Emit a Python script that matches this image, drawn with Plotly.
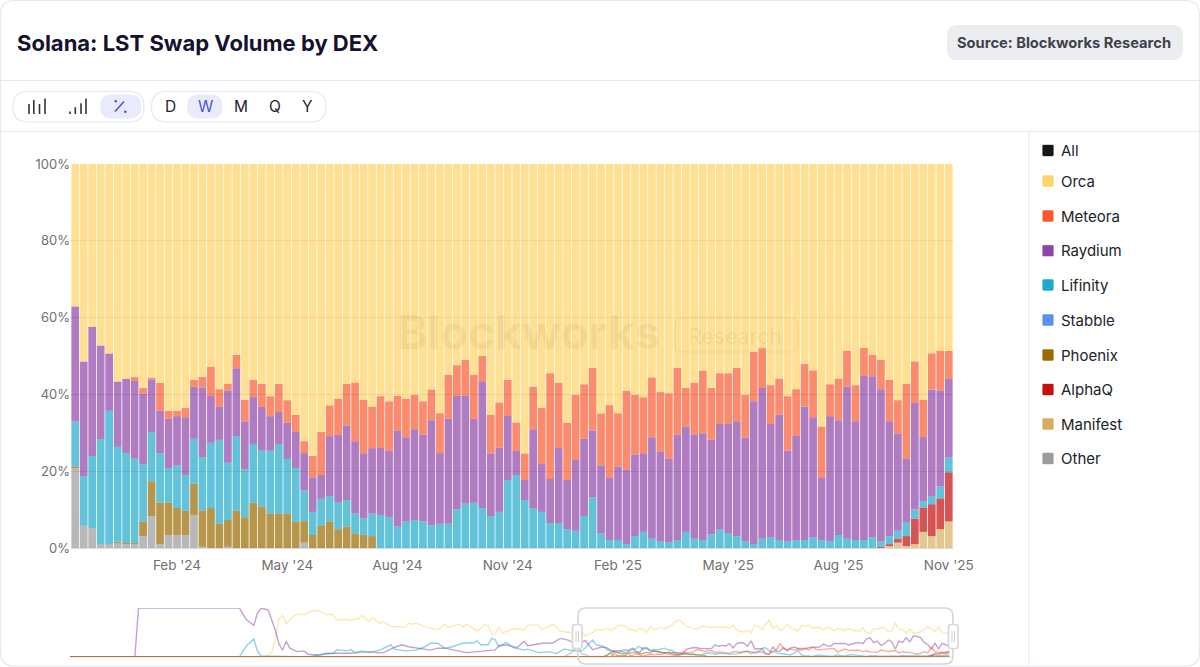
import pandas as pd
import plotly.graph_objects as go

W, H = 1200, 667

weeks = [d.strftime("%Y-%m-%d") for d in pd.date_range("2023-11-13", periods=104, freq="7D")]
tick_dates = ["2024-02-05", "2024-05-06", "2024-08-05", "2024-11-04", "2025-02-03", "2025-05-05", "2025-08-04", "2025-11-03"]
tick_labels = ["Feb '24", "May '24", "Aug '24", "Nov '24", "Feb '25", "May '25", "Aug '25", "Nov '25"]

other = [20.7,5.8,5.2,1.0,1.0,1.2,1.0,1.0,3.1,8.3,
         1.0,3.4,3.4,3.4,8.6,0.3,0,0,0.3,0,
         0,0,0,0,0,0,0,1.4] + [0]*76
phoenix = [0.5,0,0,0,0,0.4,0.3,0.3,3.8,9.0,
           10.8,8.4,7.0,6.3,8.1,9.5,10.4,6.3,7.0,9.7,
           8.0,11.8,10.8,9.0,9.0,9.0,6.9,5.6,3.4,5.9,
           6.9,4.9,5.6,3.8,3.4,3.1] + [0]*68
lifinity = [11.7,12.9,18.8,27.3,34.7,24.7,23.4,22.0,14.9,12.8,
            12.8,9.0,11.1,9.3,11.7,13.9,17.0,21.9,14.9,19.4,
            12.5,15.3,14.6,16.3,18.1,14.2,13.9,8.0,6.0,6.9,
            6.6,6.9,6.9,5.2,4.3,5.9,8.6,8.0,5.6,6.9,
            7.3,6.9,5.9,6.3,6.3,10.1,11.5,11.8,10.4,8.3,
            9.4,17.7,19.0,12.5,10.4,9.4,6.5,6.5,4.9,4.5,
            8.3,13.2,3.8,2.1,2.1,1.0,3.1,4.2,2.4,1.7,
            1.4,2.1,4.2,2.4,2.1,3.5,4.9,3.8,3.1,1.7,
            1.0,2.4,2.8,2.1,1.7,2.1,2.1,2.8,2.1,1.7,
            3.4,2.4,2.1,2.1,2.8,1.4,2.1,2.1,3.5,2.4,
            1.7,2.1,3.1,3.8]
raydium = [29.9,29.9,33.7,24.4,14.9,17.0,19.4,20.2,18.4,13.7,
           11.1,12.8,12.8,15.0,13.6,18.1,12.2,8.7,18.8,17.7,
           12.5,12.2,11.5,9.0,8.3,9.4,9.4,9.7,9.0,6.2,
           15.6,17.7,19.4,18.8,17.0,17.0,17.4,17.3,25.0,21.9,
           23.6,22.6,27.4,18.4,27.4,29.5,28.1,21.9,33.0,16.3,
           16.7,16.7,6.3,5.2,20.5,12.5,11.5,19.5,12.8,18.4,
           20.1,17.4,17.7,16.3,19.1,19.4,21.2,20.5,26.4,23.3,
           21.9,27.4,27.4,27.1,27.8,24.7,27.4,28.5,29.9,27.1,
           37.2,39.2,29.5,32.6,23.6,27.1,34.7,31.3,16.3,32.6,
           29.9,39.6,30.9,42.7,42.0,39.6,29.9,25.3,16.7,27.8,
           16.7,27.8,25.0,20.5]
meteora = [0,0,0,0,0,0,0,1.0,1.4,0.5,
           7.3,2.1,1.4,2.4,1.7,2.8,7.6,4.5,1.7,3.5,
           5.6,4.5,5.9,5.2,7.3,5.9,4.5,3.1,5.6,11.2,
           8.0,9.4,10.8,15.3,13.9,10.8,13.5,12.9,9.0,10.1,
           9.0,8.7,8.0,10.4,11.5,8.0,9.4,11.5,6.6,10.1,
           11.8,9.4,7.4,6.9,11.1,14.6,27.5,17.0,14.9,17.0,
           14.2,16.3,13.5,18.8,13.9,20.5,15.6,14.6,15.6,15.6,
           17.0,17.4,10.1,13.5,16.3,13.5,13.2,13.2,13.9,11.1,
           12.8,10.4,10.1,9.4,14.2,12.2,11.1,12.2,13.2,8.3,
           10.8,9.4,9.4,7.3,5.6,7.6,10.8,8.7,19.4,10.8,
           9.7,9.4,10.4,7.3]
orca = [37.1,51.4,42.4,47.2,49.3,56.6,55.9,55.5,58.3,55.5,
        56.9,64.2,64.2,63.5,56.2,55.5,52.8,58.7,57.3,49.7,
        61.5,56.2,57.3,60.4,57.3,61.5,65.3,72.2,76.0,69.8,
        62.8,61.1,57.3,56.9,61.5,63.2,60.4,61.8,60.4,61.1,
        60.1,61.8,58.7,64.9,54.9,52.4,51.0,54.9,50.0,65.3,
        62.1,56.2,67.4,75.3,58.0,63.5,54.5,56.9,67.4,60.1,
        57.3,53.1,64.9,62.8,64.9,59.0,60.1,60.8,55.5,59.4,
        59.7,53.1,58.3,56.9,53.8,58.3,54.5,54.5,53.1,60.1,
        48.9,47.9,57.6,55.9,60.4,58.7,52.1,53.8,68.4,57.3,
        55.9,48.6,57.6,47.9,49.7,51.0,56.2,61.5,57.3,51.4,
        61.5,49.3,48.6,48.6]
stabble = [0]*104
alphaq = [0]*95 + [0.3,0.5,1.0,2.6,6.6,6.3,8.3,8.0,12.8]
manifest = [0]*96 + [0.5,1.4,0.5,1.0,4.2,3.1,4.9,6.9]

# Navigator history before the selected window (week index, share %)
hist_raydium_w = [0,18,19,47,48,49,51,52,53,55,56,57,58,59,60,61,63,65,66,69,71,74,78,80,83,85,87,90,92,94,97,100,102,104,106,110,113,118,119,121,124,126,127,131,134,136,138,140]
hist_raydium_v = [0,0,100,100,87.5,76,64.6,89,100,96,75,54,26,14,32,18,11,12.5,5.5,3.5,7.6,7,7.6,9,11,9,9,19.4,25,21,17,14,18,18,15,9,11,14.6,23,25,19,32,23,28,28.5,38,35,29]
hist_orca_w = [0,54,56,57,58,59,60,62,63,65,67,69,71,73,74,76,78,80,81,83,84,86,87,89,93,94,95,96,99,102,104,105,108,109,110,111,113,115,116,117,118,119,120,123,126,127,130,131,134,136,138,140]
hist_orca_v = [0,0,9,40,78,85,68,83,87.5,86,94,94,87.5,86,75,77,75,78,85,73,80,68,72,62.5,61,69,67,69,61,55.5,67,61,67,61,67,62.5,53,65,65,47,47,61,49,58,55.5,65,65,55.5,67,53,51,48]
hist_lifinity_w = [0,47,48,49,51,52,53,67,68,70,73,74,77,78,79,81,83,84,86,89,90,93,96,98,100,102,104,106,109,112,113,114,116,117,118,119,121,123,126,127,130,133,135,137,139]
hist_lifinity_v = [0,0,12.5,23,37,12.5,2,0,3.5,5.5,7,14.6,12.5,15,9,12.5,9,11,14,25,16,12.5,14,19.4,28,28,18,21,28,29,33,25,25,38,35,21,30,19,14,16,9,11,7,16,14]
hist_other_w = [0,137,139,140]
hist_other_v = [0,0,8,16]
hist_zero_w = [0,140]
hist_zero_v = [0,0]
window_start_week = 141

names = ["All", "Orca", "Meteora", "Raydium", "Lifinity", "Stabble", "Phoenix", "AlphaQ", "Manifest", "Other"]
colors = {"All": "#161616", "Orca": "#ffd466", "Meteora": "#fb5a30", "Raydium": "#8e44a8", "Lifinity": "#1fa9cb",
          "Stabble": "#5b91ee", "Phoenix": "#9a6b00", "AlphaQ": "#c70d0d", "Manifest": "#d9ae63", "Other": "#9b9b9b"}
legend_y = [150.5, 181, 216, 250.7, 285, 320, 355, 389.5, 424, 458.5]

fig = go.Figure()
stack = [("Other", other), ("Manifest", manifest), ("AlphaQ", alphaq), ("Phoenix", phoenix), ("Stabble", stabble),
         ("Lifinity", lifinity), ("Raydium", raydium), ("Meteora", meteora), ("Orca", orca)]
for n, v in stack:
    fig.add_trace(go.Bar(x=weeks, y=v, name=n, marker=dict(color=colors[n], line=dict(width=0)), opacity=0.7,
                         hovertemplate=n + " %{y:.1f}%<extra></extra>"))

mini = [("Orca", hist_orca_w, hist_orca_v, orca), ("Raydium", hist_raydium_w, hist_raydium_v, raydium),
        ("Lifinity", hist_lifinity_w, hist_lifinity_v, lifinity), ("Other", hist_other_w, hist_other_v, other),
        ("Stabble", hist_zero_w, hist_zero_v, stabble), ("Meteora", hist_zero_w, hist_zero_v, meteora),
        ("AlphaQ", hist_zero_w, hist_zero_v, alphaq), ("Manifest", hist_zero_w, hist_zero_v, manifest),
        ("Phoenix", hist_zero_w, hist_zero_v, phoenix)]
for n, hw, hv, cur in mini:
    xs = hw + [window_start_week + i for i in range(len(cur))]
    fig.add_trace(go.Scatter(x=xs, y=hv + cur, mode="lines", xaxis="x2", yaxis="y2", opacity=0.5,
                             line=dict(color=colors[n], width=1.4), hoverinfo="skip", showlegend=False))

# Invisible full-page axes carry the page texts
fig.add_trace(go.Scatter(x=[None], y=[None], xaxis="x3", yaxis="y3", mode="markers", hoverinfo="skip", showlegend=False))


def px(x):
    return x / W


def py(y):
    return 1 - y / H


def rrect_path(x0, y0, x1, y1, r):
    p = [("M", x0 + r, y0), ("L", x1 - r, y0), ("Q", x1, y0, x1, y0 + r), ("L", x1, y1 - r), ("Q", x1, y1, x1 - r, y1),
         ("L", x0 + r, y1), ("Q", x0, y1, x0, y1 - r), ("L", x0, y0 + r), ("Q", x0, y0, x0 + r, y0)]
    out = []
    for seg_ in p:
        c = seg_[0]
        nums = seg_[1:]
        coords = []
        for i in range(0, len(nums), 2):
            coords.append(f"{px(nums[i]):.5f},{py(nums[i + 1]):.5f}")
        out.append(c + " ".join(coords))
    return " ".join(out) + " Z"


shapes = []


def rrect(x0, y0, x1, y1, r, fill="rgba(0,0,0,0)", line="rgba(0,0,0,0)", lw=1, layer="above"):
    shapes.append(dict(type="path", xref="paper", yref="paper", path=rrect_path(x0, y0, x1, y1, r), fillcolor=fill,
                       line=dict(color=line, width=lw), layer=layer))


def seg(x0, y0, x1, y1, color, lw=1, layer="above"):
    shapes.append(dict(type="line", xref="paper", yref="paper", x0=px(x0), y0=py(y0), x1=px(x1), y1=py(y1),
                       line=dict(color=color, width=lw), layer=layer))


annots = []


def text(x, y, s, size, color, anchor="left", family="Inter", weight=None):
    font = dict(family=family, size=size, color=color)
    if weight:
        font["weight"] = weight
    annots.append(dict(xref="x3", yref="y3", x=x, y=y, text=s, showarrow=False, xanchor=anchor,
                       yanchor="middle", font=font, borderpad=0, borderwidth=0))


CHROME = "#e6e8f0"
rrect(0.5, 0.5, 1199.5, 666, 14, line=CHROME, lw=1.2, layer="below")
seg(0, 80.5, 1200, 80.5, CHROME)
seg(0, 131.5, 1200, 131.5, CHROME)
seg(1028.8, 131.5, 1028.8, 666, CHROME)

text(17, 42.5, "Solana: LST Swap Volume by DEX", 22, "#14122e", weight=700)
rrect(947, 25, 1183, 60, 10, fill="#ecedf0", layer="below")
text(1064, 42.5, "Source: Blockworks Research", 14.7, "#3d4149", anchor="center", weight=700)

# Toolbar
rrect(13, 91.5, 144, 122, 15, line="#e5e7f5", lw=1.2, fill="#ffffff", layer="below")
rrect(151.5, 91.5, 326, 122, 15, line="#e5e7f5", lw=1.2, fill="#ffffff", layer="below")
rrect(100, 94.5, 141.5, 118.5, 12, fill="#e9ebfd", layer="below")
rrect(187, 94.5, 222.5, 118.5, 12, fill="#e9ebfd", layer="below")
for x, top in [(29, 104), (33.8, 100), (39.5, 104), (45, 98.5)]:
    seg(x, top, x, 114, "#33333d", 1.6)
for x, top in [(70, 111.5), (75.3, 107.3), (81, 103.3), (86, 98.5)]:
    seg(x, top, x, 114, "#33333d", 1.6)
seg(115, 111.5, 124, 101.5, "#4a55d8", 1.6)
rrect(114.5, 100, 117, 102.5, 1.2, fill="#4a55d8")
rrect(124, 110.5, 126.5, 113, 1.2, fill="#4a55d8")
for x, s, c in [(170.5, "D", "#23232b"), (205, "W", "#4a55d8"), (240.5, "M", "#23232b"), (274.5, "Q", "#23232b"), (307, "Y", "#23232b")]:
    text(x, 106.5, s, 15.5, c, anchor="center")

# Legend
for n, y in zip(names, legend_y):
    rrect(1042.7, y - 5.4, 1053.3, y + 5.4, 0.8, fill=colors[n], line=colors[n], lw=0.5, layer="below")
    text(1061, y, n, 15, "#1b1b2e" if n == "All" else "#222228")

# Watermark
text(528, 332, "Blockworks", 46, "rgba(170,140,70,0.12)", anchor="center", weight=700)
rrect(675, 318, 798, 352, 8, line="rgba(170,140,70,0.10)", lw=1.2)
text(735, 336, "Research", 21, "rgba(170,140,70,0.12)", anchor="center", weight=500)

# Navigator
seg(70, 657, 953, 657, "#e2e2e2", 1.2, layer="below")
rrect(578, 608, 953, 664, 8, line="#d6d6d6", lw=1.6)
rrect(572.5, 624.5, 582, 648.5, 2.5, fill="#ffffff", line="#d6d6d6", lw=1.6)
rrect(948.5, 624.5, 958, 648.5, 2.5, fill="#ffffff", line="#d6d6d6", lw=1.6)
for hx in (576, 578.5, 952, 954.5):
    seg(hx, 631, hx, 642, "#cfcfcf", 1)

fig.update_layout(
    width=W, height=H, margin=dict(l=0, r=0, t=0, b=0, autoexpand=False), autosize=False,
    paper_bgcolor="white", plot_bgcolor="rgba(0,0,0,0)", showlegend=False,
    barmode="stack", barnorm="percent", bargap=0.09,
    font=dict(family="Inter", size=13, color="#707070"),
    xaxis=dict(domain=[px(71), px(953)], type="category", categoryorder="array", categoryarray=weeks,
               range=[-0.5, 103.5], tickmode="array", tickvals=tick_dates, ticktext=tick_labels, automargin=False,
               ticks="", ticklabelstandoff=5, showgrid=False, showline=True, linecolor="#dcdcdc", linewidth=1,
               zeroline=False, tickfont=dict(family="Inter", size=13.5, color="#707070"), anchor="y"),
    yaxis=dict(domain=[py(548), py(164)], range=[0, 100], tickmode="array", tickvals=[0, 20, 40, 60, 80, 100],
               ticktext=["0%", "20%", "40%", "60%", "80%", "100%"], ticks="", showgrid=True, gridcolor="#d8d8d8",
               gridwidth=1, zeroline=False, showline=False, tickfont=dict(family="Inter", size=13, color="#707070"),
               anchor="x", automargin=False),
    xaxis2=dict(domain=[px(70), px(953)], range=[0, 245], visible=False, anchor="y2", automargin=False),
    yaxis2=dict(domain=[py(657), py(608)], range=[0, 100], visible=False, anchor="x2", automargin=False),
    xaxis3=dict(domain=[0, 1], range=[0, W], visible=False, anchor="y3", automargin=False),
    yaxis3=dict(domain=[0, 1], range=[H, 0], visible=False, anchor="x3", automargin=False),
    shapes=shapes, annotations=annots,
)

fig.write_html(
    "out.html",
    config={"staticPlot": True, "displayModeBar": False, "responsive": False},
    default_width="1200px",
    default_height="667px",
    post_script=(
        "document.documentElement.style.margin='0';document.body.style.margin='0';"
        "document.documentElement.style.overflow='hidden';"
        "document.querySelectorAll('.bars path').forEach(function(p){p.style.shapeRendering='geometricPrecision';});"
    ),
)
